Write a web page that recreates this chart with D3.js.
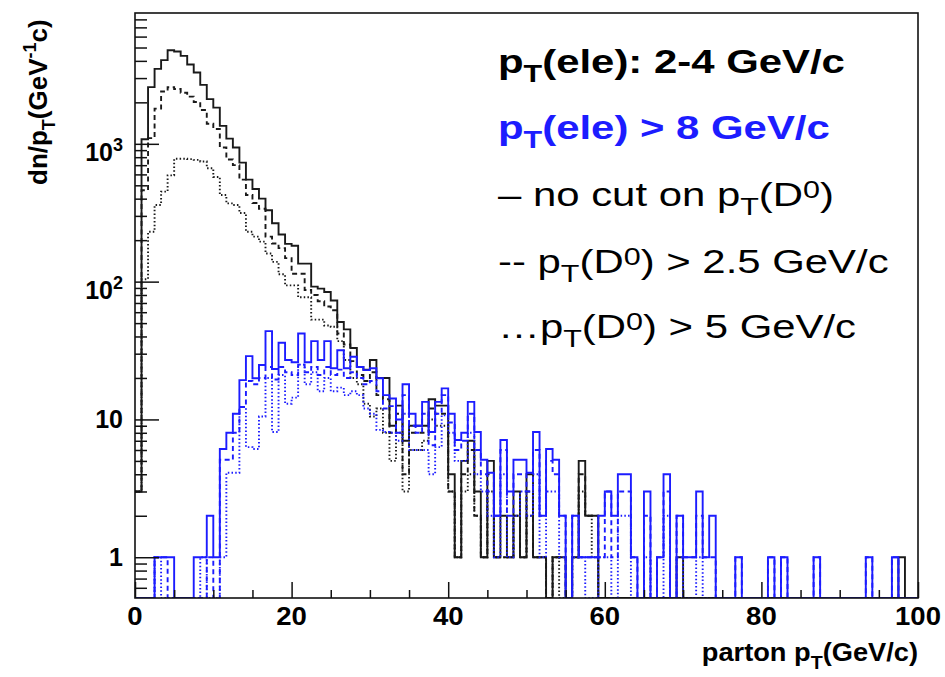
<!DOCTYPE html>
<html>
<head>
<meta charset="utf-8">
<script src="https://cdn.jsdelivr.net/npm/d3@7"></script>
<style>
  body { margin: 0; background: #fff; }
  svg { display: block; }
  text { font-family: "Liberation Sans", Arial, Helvetica, sans-serif; }
</style>
</head>
<body>
<svg width="945" height="677"></svg>
<script>
// histogram binning: 120 bins over 0-100 GeV/c
const nBins = 120;
const xMin = 0, xMax = 100;

// pT(ele) 2-4 GeV/c, black
const blackSolid = [
  3, 1080, 2580, 3500, 4050, 4780, 4680, 4350, 3760, 3290,
  2680, 2110, 1830, 1350, 1090, 940, 730, 550, 470, 400,
  330, 265, 220, 188, 182, 135, 135, 92, 89, 84,
  73, 51, 45, 33, 24, 23, 27, 20, 20, 9,
  12.6, 7, 9, 9, 9, 14, 12.6, 12.6, 4, 1,
  5, 7, 3, 1, 5, 1, 2, 1, 3, 1,
  4, 1, 1, 0, 1, 1, 0, 1, 5, 2,
  2, 0, 0, 0, 0, 0, 0, 0, 0, 0,
  0, 0, 0, 1, 0, 0, 0, 0, 0, 0,
  0, 0, 0, 0, 0, 0, 0, 0, 0, 0,
  0, 0, 0, 0, 0, 0, 0, 0, 0, 0,
  0, 0, 0, 0, 0, 0, 0, 1, 0, 0
];
const blackDashed = [
  3, 460, 1100, 1800, 2400, 2576, 2500, 2350, 2200, 2010,
  1760, 1400, 1280, 940, 770, 700, 550, 425, 372, 338,
  212, 189, 175, 148, 114, 114, 87, 80, 72, 66,
  62, 42, 35, 26.5, 21, 19, 22, 15, 14, 8,
  11, 4, 8, 8, 8, 12, 11, 11, 3, 1,
  4, 6, 2, 1, 4, 1, 1, 1, 2, 1,
  3, 1, 1, 0, 1, 1, 0, 1, 4, 2,
  2, 0, 0, 0, 0, 0, 0, 0, 0, 0,
  0, 0, 0, 0, 0, 0, 0, 0, 0, 0,
  0, 0, 0, 0, 0, 0, 0, 0, 0, 0,
  0, 0, 0, 0, 0, 0, 0, 0, 0, 0,
  0, 0, 0, 0, 0, 0, 0, 0, 0, 0
];
const blackDotted = [
  3, 104, 230, 360, 450, 590, 780, 780, 775, 765,
  745, 665, 575, 425, 370, 360, 315, 230, 212, 195,
  160, 139, 113, 94, 94, 77, 77, 53, 53, 48,
  47, 37, 27, 20, 18, 13, 10.5, 12, 8, 5,
  8, 3, 6, 6, 7, 10, 9, 9, 3, 1,
  3, 4, 2, 1, 3, 1, 1, 1, 2, 1,
  2, 1, 1, 0, 1, 0, 0, 1, 3, 2,
  1, 0, 0, 0, 0, 0, 0, 0, 0, 0,
  0, 0, 0, 0, 0, 0, 0, 0, 0, 0,
  0, 0, 0, 0, 0, 0, 0, 0, 0, 0,
  0, 0, 0, 0, 0, 0, 0, 0, 0, 0,
  0, 0, 0, 0, 0, 0, 0, 0, 0, 0
];

// pT(ele) > 8 GeV/c, blue
const blueSolid = [
  0, 0, 0, 1, 1, 1, 0, 0, 0, 1,
  1, 2, 1, 6.1, 8, 11, 19.3, 28.8, 19.9, 24.8,
  43.7, 23.2, 36, 27, 26, 42, 26, 37, 27, 37,
  23.5, 31.8, 23.5, 28.5, 24, 22.8, 23.5, 19.9, 15, 14.2,
  10, 18, 11, 9, 13.4, 8.1, 13.4, 16.8, 11, 7.1,
  8, 13.4, 8.1, 5.1, 4.1, 2, 7.1, 3, 5.1, 5.1,
  4.1, 8.1, 2, 6.1, 5.1, 2, 0, 2, 1, 1,
  1, 2, 3, 2, 4, 4, 1, 0, 3, 0,
  1, 4, 0, 2, 1, 1, 3, 1, 2, 0,
  0, 0, 1, 0, 0, 0, 0, 1, 0, 1,
  0, 0, 0, 0, 1, 0, 0, 0, 0, 0,
  0, 0, 1, 0, 0, 0, 1, 0, 0, 0
];
const blueDashed = [
  0, 0, 0, 1, 1, 0, 0, 0, 0, 0,
  0, 1, 0, 5.1, 5.1, 8, 12.3, 19, 18, 20,
  24, 19.5, 24, 22, 21, 25, 22, 24, 21, 24,
  21, 23, 20, 22, 20, 18, 19, 16, 12, 12.5,
  8, 15, 9, 8, 11, 6.5, 11, 15, 9.5, 6,
  7, 11, 6, 4, 3, 2, 6, 2, 4, 4,
  3, 6, 2, 5, 4, 2, 0, 2, 1, 1,
  1, 1, 3, 1, 3, 3, 1, 0, 2, 0,
  1, 3, 0, 2, 1, 1, 2, 1, 1, 0,
  0, 0, 1, 0, 0, 0, 0, 1, 0, 1,
  0, 0, 0, 0, 1, 0, 0, 0, 0, 0,
  0, 0, 1, 0, 0, 0, 1, 0, 0, 0
];
const blueDotted = [
  0, 0, 0, 1, 0, 0, 0, 0, 0, 0,
  1, 0, 0, 1, 4.1, 4.1, 12.3, 6.3, 6.1, 10.5,
  20, 8.1, 21, 13, 14.4, 25, 18, 22, 16, 20,
  16, 17, 15, 16, 15, 12, 11, 8.4, 8.1, 8,
  7, 11, 6, 6, 6, 4, 6.3, 10.7, 8, 5,
  5, 8, 4, 3, 2, 1, 4, 1, 2, 3,
  2, 4, 1, 3, 3, 1, 0, 1, 1, 0,
  0, 1, 1, 0, 2, 2, 0, 0, 1, 0,
  0, 2, 0, 1, 0, 0, 1, 0, 0, 0,
  0, 0, 0, 0, 0, 0, 0, 0, 0, 0,
  0, 0, 0, 0, 0, 0, 0, 0, 0, 0,
  0, 0, 0, 0, 0, 0, 0, 0, 0, 0
];

const xTickValues = [0, 20, 40, 60, 80, 100];
const yMajorValues = [1, 10, 100, 1000];
const yTickLabels = [
  { v: 1, base: "1", exp: "" },
  { v: 10, base: "10", exp: "" },
  { v: 100, base: "10", exp: "2" },
  { v: 1000, base: "10", exp: "3" }
];

const series = [
  { vals: blackDotted, color: "#1a1a1a", dash: "1.5,2.2" },
  { vals: blackDashed, color: "#1a1a1a", dash: "5,3.5" },
  { vals: blackSolid, color: "#1a1a1a", dash: null },
  { vals: blueDotted, color: "#1c1cff", dash: "1.5,2.2" },
  { vals: blueDashed, color: "#1c1cff", dash: "5,3.5" },
  { vals: blueSolid, color: "#1c1cff", dash: null }
];

const svg = d3.select("svg");
const frame = { left: 135, right: 918, top: 13, bottom: 598 };

const x = d3.scaleLinear().domain([xMin, xMax]).range([frame.left, frame.right]);
const y = d3.scaleLog().domain([0.506, 8900]).range([frame.bottom, frame.top]).clamp(true);

const edges = d3.range(nBins + 1).map(k => xMin + k * (xMax - xMin) / nBins);

svg.append("clipPath").attr("id", "plot")
  .append("rect")
  .attr("x", frame.left).attr("y", frame.top)
  .attr("width", frame.right - frame.left)
  .attr("height", frame.bottom - frame.top);

const yv = v => v > 0 ? y(v) : frame.bottom;
const line = d3.line()
  .x(d => x(d[0]))
  .y(d => yv(d[1]))
  .curve(d3.curveStepAfter);

const plot = svg.append("g").attr("clip-path", "url(#plot)");
series.forEach(s => {
  const pts = s.vals.map((v, k) => [edges[k], v]);
  pts.push([edges[nBins], s.vals[nBins - 1]]);
  plot.append("path")
    .attr("d", line(pts))
    .attr("fill", "none")
    .attr("stroke", s.color)
    .attr("stroke-width", 1.9)
    .attr("stroke-dasharray", s.dash);
});

// axes, ROOT style: ticks pointing into the frame
const xMinor = d3.range(0, 101, 5).filter(v => v % 20 !== 0);
svg.append("g").attr("transform", `translate(0,${frame.bottom})`)
  .call(d3.axisBottom(x).tickValues(xTickValues).tickSize(-16).tickFormat(""))
  .call(g => g.select(".domain").remove());
svg.append("g").attr("transform", `translate(0,${frame.bottom})`)
  .call(d3.axisBottom(x).tickValues(xMinor).tickSize(-8).tickFormat(""))
  .call(g => g.select(".domain").remove());

const yMinor = [];
[0.1, 1, 10, 100, 1000].forEach(dec => {
  for (let m = 2; m <= 9; m++) {
    const v = m * dec;
    if (v >= 0.506 && v <= 8900) yMinor.push(v);
  }
});
svg.append("g").attr("transform", `translate(${frame.left},0)`)
  .call(d3.axisLeft(y).tickValues(yMajorValues).tickSize(-24).tickFormat(""))
  .call(g => g.select(".domain").remove());
svg.append("g").attr("transform", `translate(${frame.left},0)`)
  .call(d3.axisLeft(y).tickValues(yMinor).tickSize(-12).tickFormat(""))
  .call(g => g.select(".domain").remove());
svg.selectAll(".tick line").attr("stroke", "#111").attr("stroke-width", 1.5);

svg.append("rect")
  .attr("x", frame.left).attr("y", frame.top)
  .attr("width", frame.right - frame.left)
  .attr("height", frame.bottom - frame.top)
  .attr("fill", "none").attr("stroke", "#111").attr("stroke-width", 1.6);

// tick labels
svg.append("g").selectAll("g").data(xTickValues).join("g")
  .attr("transform", d => `translate(${x(d)},625) scale(1.1,1)`)
  .append("text")
  .attr("text-anchor", "middle")
  .attr("font-size", 25).attr("font-weight", "bold")
  .text(d => d);

const yl = svg.append("g").selectAll("text").data(yTickLabels).join("text")
  .attr("x", 123)
  .attr("y", d => y(d.v) + (d.exp ? 17.5 : 9))
  .attr("text-anchor", "end")
  .attr("font-size", 25).attr("font-weight", "bold");
yl.append("tspan").text(d => d.base);
yl.append("tspan").attr("dy", -10).attr("font-size", 18).text(d => d.exp);

// axis titles
const xt = svg.append("g")
  .attr("transform", "translate(918,661) scale(1.09,1)")
  .append("text")
  .attr("text-anchor", "end")
  .attr("font-size", 25).attr("font-weight", "bold");
xt.append("tspan").text("parton p");
xt.append("tspan").attr("dy", 8).attr("font-size", 18).text("T");
xt.append("tspan").attr("dy", -8).text("(GeV/c)");

const yt = svg.append("text")
  .attr("transform", "translate(47,185) rotate(-90)")
  .attr("text-anchor", "start")
  .attr("font-size", 26).attr("font-weight", "bold");
yt.append("tspan").text("dn/p");
yt.append("tspan").attr("dy", 8).attr("font-size", 18).text("T");
yt.append("tspan").attr("dy", -8).text("(GeV");
yt.append("tspan").attr("dy", -11).attr("font-size", 18).text("-1");
yt.append("tspan").attr("dy", 11).text("c)");

// legend text
const legendLines = [
  { pre: "p", sub: "T", mid: "(ele): 2-4 GeV/c", sup: "", post: "", color: "#000", bold: true },
  { pre: "p", sub: "T", mid: "(ele) > 8 GeV/c", sup: "", post: "", color: "#1c1cff", bold: true },
  { pre: "\u2013 no cut on p", sub: "T", mid: "(D", sup: "0", post: ")", color: "#000", bold: false },
  { pre: "-- p", sub: "T", mid: "(D", sup: "0", post: ") > 2.5 GeV/c", color: "#000", bold: false },
  { pre: "\u2026p", sub: "T", mid: "(D", sup: "0", post: ") > 5 GeV/c", color: "#000", bold: false }
];
const legendBase = [72.5, 139, 206, 272.5, 338];

legendLines.forEach((l, i) => {
  const t = svg.append("g")
    .attr("transform", `translate(498,${legendBase[i]}) scale(1.27,1)`)
    .append("text")
    .attr("font-size", 33)
    .attr("font-weight", l.bold ? "bold" : "normal")
    .attr("fill", l.color);
  t.append("tspan").text(l.pre);
  t.append("tspan").attr("dy", 9).attr("font-size", 24).text(l.sub);
  t.append("tspan").attr("dy", -9).text(l.mid);
  if (l.sup) {
    t.append("tspan").attr("dy", -8).attr("font-size", 24).text(l.sup);
    t.append("tspan").attr("dy", 8).text(l.post);
  }
});
</script>
</body>
</html>
